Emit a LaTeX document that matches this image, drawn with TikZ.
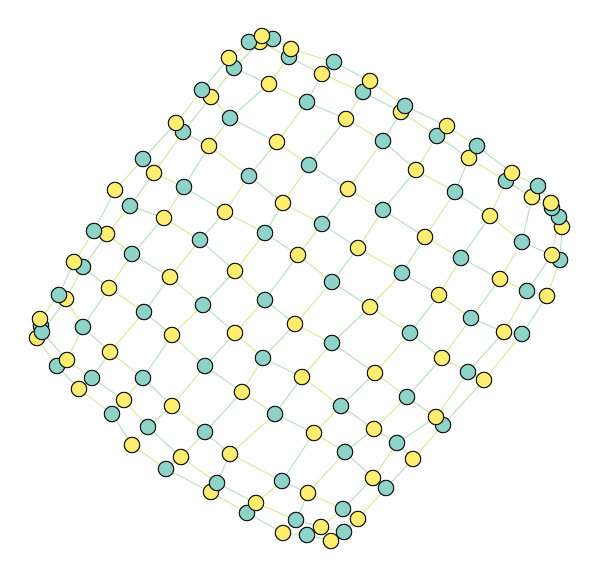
\documentclass[tikz,border=0pt]{standalone}
\usetikzlibrary{backgrounds}
\definecolor{tealnode}{HTML}{8DD3C7}
\definecolor{yellownode}{HTML}{FFED6F}
\definecolor{edgeyel}{RGB}{218,234,165}
\definecolor{edgegrn}{RGB}{190,225,195}
\tikzset{
  gnode/.style={circle,draw=black!90,line width=1.1pt,minimum size=15.5pt,inner sep=0pt},
  tnode/.style={gnode,fill=tealnode},
  ynode/.style={gnode,fill=yellownode},
  elink/.style={line width=1.1pt,draw=edgeyel},
  glink/.style={line width=1.1pt,draw=edgegrn}
}
\begin{document}
\begin{tikzpicture}[x=1pt,y=-1pt]
\useasboundingbox (0,0) rectangle (600,578);
\foreach \i/\j/\x/\y in {
11/0/331/541,10/0/307/535,9/0/283/533,8/0/247/513,7/0/211/492,6/0/166/469,5/0/132/445,4/0/112/414,3/0/79/389,2/0/57/366,1/0/37/338,0/0/41/326,
11/1/344/532,10/1/321/527,9/1/296/520,8/1/256/503,7/1/217/483,6/1/181/457,5/1/148/427,4/1/124/400,3/1/92/378,2/1/67/360,1/1/42/332,0/1/40/319,
11/2/358/519,10/2/343/509,9/2/308/493,8/2/282/481,7/2/230/454,6/2/205/432,5/2/172/406,4/2/143/378,3/2/110/352,2/2/83/327,1/2/66/299,0/2/59/295,
11/3/386/488,10/3/373/478,9/3/345/452,8/3/314/433,7/3/275/414,6/3/242/392,5/3/205/366,4/3/172/335,3/3/144/312,2/3/109/288,1/3/83/267,0/3/74/262,
11/4/413/459,10/4/397/443,9/4/374/429,8/4/341/406,7/4/302/377,6/4/263/358,5/4/235/333,4/4/203/305,3/4/170/277,2/4/132/254,1/4/107/234,0/4/94/231,
11/5/443/425,10/5/436/417,9/5/407/397,8/5/375/373,7/5/332/343,6/5/295/324,5/5/265/300,4/5/235/271,3/5/200/240,2/5/164/218,1/5/130/206,0/5/115/190,
11/6/484/380,10/6/468/372,9/6/442/358,8/6/410/333,7/6/370/307,6/6/332/282,5/6/298/255,4/6/265/233,3/6/225/212,2/6/184/187,1/6/154/173,0/6/143/159,
11/7/522/334,10/7/504/332,9/7/471/318,8/7/439/295,7/7/402/273,6/7/358/248,5/7/322/224,4/7/283/203,3/7/249/176,2/7/209/146,1/7/183/132,0/7/176/123,
11/8/547/296,10/8/527/291,9/8/500/279,8/8/461/258,7/8/425/237,6/8/383/210,5/8/348/189,4/8/309/165,3/8/277/142,2/8/230/118,1/8/211/97,0/8/202/90,
11/9/560/260,10/9/552/255,9/9/522/242,8/9/490/216,7/9/455/192,6/9/416/170,5/9/383/141,4/9/346/119,3/9/307/102,2/9/269/84,1/9/234/68,0/9/229/58,
11/10/562/227,10/10/559/217,9/10/532/197,8/10/506/181,7/10/469/158,6/10/437/136,5/10/401/112,4/10/363/92,3/10/322/74,2/10/289/57,1/10/260/42,0/10/249/42,
11/11/552/208,10/11/551/203,9/11/538/186,8/11/512/173,7/11/477/146,6/11/447/126,5/11/405/106,4/11/370/81,3/11/334/62,2/11/291/49,1/11/273/39,0/11/262/36}{
  \pgfmathtruncatemacro\pp{mod(\i+\j,2)}
  \ifnum\pp=0
    \node[tnode] (n\i-\j) at (\x,\y) {};
  \else
    \node[ynode] (n\i-\j) at (\x,\y) {};
  \fi
}
\begin{scope}[on background layer]
\foreach \i in {0,...,11}{
  \foreach \j [evaluate=\j as \k using int(\j+1)] in {0,...,10}{
    \pgfmathtruncatemacro\q{mod(\i+\j,2)}
    \ifnum\q=0 \draw[glink] (n\i-\j) -- (n\i-\k); \else \draw[elink] (n\i-\j) -- (n\i-\k); \fi
  }
}
\foreach \i [evaluate=\i as \m using int(\i+1)] in {0,...,10}{
  \foreach \j in {0,...,11}{
    \pgfmathtruncatemacro\q{mod(\i+\j,2)}
    \ifnum\q=0 \draw[glink] (n\i-\j) -- (n\m-\j); \else \draw[elink] (n\i-\j) -- (n\m-\j); \fi
  }
}
\end{scope}
\end{tikzpicture}
\end{document}
